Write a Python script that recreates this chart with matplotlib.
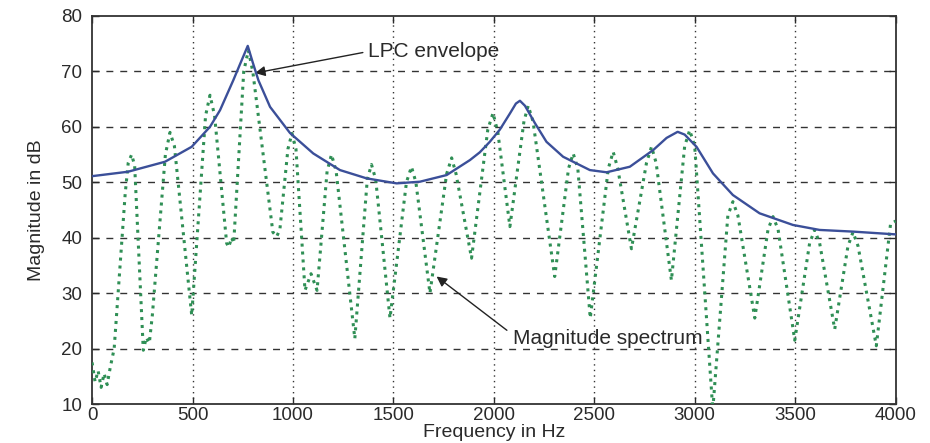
import matplotlib
matplotlib.use("Agg")
import matplotlib.pyplot as plt
from matplotlib import font_manager

# ---- data ----
env_hz = [0, 179, 363, 496, 587, 637, 703, 740, 775, 800, 828, 886, 985, 1101, 1234, 1367,
          1516, 1632, 1765, 1881, 1930, 1980, 2030, 2080, 2110, 2130, 2155, 2204, 2262,
          2345, 2478, 2561, 2677, 2793, 2860, 2915, 2950, 3009, 3091, 3190, 3323, 3489,
          3622, 3788, 4000]
env_db = [51.1, 51.9, 53.7, 56.4, 60.0, 63.0, 68.4, 71.6, 74.6, 71.6, 68.4, 63.6, 58.9,
          55.2, 52.2, 50.7, 49.8, 50.1, 51.3, 54.0, 55.4, 57.3, 59.5, 62.4, 64.2, 64.7,
          63.8, 60.7, 57.3, 54.6, 52.2, 51.8, 52.8, 55.8, 58.0, 59.1, 58.6, 56.4, 51.6,
          47.7, 44.4, 42.3, 41.4, 41.1, 40.6]

spec_hz = [0, 15, 30, 45, 60, 75, 90, 110, 165, 180, 197, 212, 255, 270, 285, 300,
           365, 388, 410, 496, 565, 587, 610, 670, 680, 695, 705, 755, 778, 800, 900,
           919, 935, 975, 995, 1015, 1060, 1090, 1120, 1170, 1192, 1215, 1308, 1370,
           1391, 1412, 1483, 1565, 1590, 1612, 1682, 1765, 1790, 1812, 1889, 1970, 1996,
           2020, 2080, 2150, 2171, 2195, 2303, 2372, 2395, 2418, 2480, 2570, 2594, 2617,
           2685, 2760, 2785, 2808, 2884, 2950, 2975, 3000, 3090, 3165, 3190, 3215, 3299,
           3365, 3390, 3415, 3498, 3572, 3597, 3622, 3697, 3763, 3788, 3813, 3904, 3975,
           4000]
spec_db = [17.5, 14.0, 16.0, 13.0, 15.5, 13.5, 16.5, 20.0, 48.0, 53.5, 55.0, 53.0, 19.7,
           22.0, 21.0, 26.0, 55.0, 59.0, 56.5, 26.0, 62.0, 65.7, 62.0, 39.0, 38.3, 40.0,
           39.0, 70.0, 73.8, 70.0, 41.0, 40.2, 41.5, 56.0, 58.8, 56.0, 30.5, 33.5, 30.5,
           52.0, 55.0, 52.0, 21.8, 50.5, 53.2, 50.5, 25.5, 50.0, 52.8, 50.0, 30.0, 51.5,
           54.4, 51.5, 36.3, 59.5, 62.5, 59.0, 42.0, 61.0, 63.8, 61.0, 33.0, 52.5, 55.2,
           52.5, 25.5, 52.5, 55.5, 52.5, 38.0, 53.5, 56.4, 53.5, 32.3, 56.5, 59.4, 56.5,
           9.0, 44.0, 46.5, 44.0, 25.5, 41.5, 43.8, 41.5, 21.5, 39.0, 41.4, 39.0, 23.5,
           38.5, 41.0, 38.5, 20.5, 42.5, 43.0]

x_ticks = [0, 500, 1000, 1500, 2000, 2500, 3000, 3500, 4000]
y_ticks = [10, 20, 30, 40, 50, 60, 70, 80]

# ---- fonts ----
avail = {f.name for f in font_manager.fontManager.ttflist}
main_font = "Liberation Sans" if "Liberation Sans" in avail else "DejaVu Sans"
plt.rcParams['font.family'] = [main_font, 'DejaVu Sans']

TXT = "#2a2a2a"
fig = plt.figure(figsize=(9.3, 4.43), dpi=100)
ax = fig.add_axes([0.099, 0.088, 0.864, 0.876])

ax.plot(spec_hz, spec_db, linestyle=(0, (1, 1.6)), color="#2f8f55", linewidth=2.2,
        dash_capstyle='butt', zorder=3)
ax.plot(env_hz, env_db, color="#3b4f99", linewidth=1.7, zorder=4)

ax.set_xlim(0, 4000)
ax.set_ylim(10, 80)
ax.set_xticks(x_ticks)
ax.set_yticks(y_ticks)
ax.tick_params(direction='in', length=5, width=1, labelsize=13.5, colors=TXT,
               top=True, right=True)
ax.tick_params(axis='y', pad=7)
ax.tick_params(axis='x', pad=2)

for x in x_ticks[1:-1]:
    ax.axvline(x, color="#333333", linestyle=(0, (1, 3)), linewidth=1.0, zorder=1)
for y in y_ticks[1:-1]:
    ax.axhline(y, color="#333333", linestyle=(0, (5, 5)), linewidth=1.0, zorder=1)

for s in ax.spines.values():
    s.set_color("#333333")
    s.set_linewidth(1.3)

ax.set_xlabel("Frequency in Hz", fontsize=14, color=TXT, labelpad=0)
ax.set_ylabel("Magnitude in dB", fontsize=14, color=TXT, labelpad=12)

# LPC envelope annotation
ax.annotate("", xy=(811, 69.7), xytext=(1348, 73.4),
            arrowprops=dict(arrowstyle='-|>', color="#222222", lw=1.0,
                            mutation_scale=15, shrinkA=0, shrinkB=0))
ax.text(1373, 73.5, "LPC envelope", fontsize=15, color=TXT, va='center', ha='left')

# Magnitude spectrum annotation
ax.annotate("", xy=(1715, 33.0), xytext=(2065, 23.3),
            arrowprops=dict(arrowstyle='-|>', color="#222222", lw=1.0,
                            mutation_scale=15, shrinkA=0, shrinkB=0))
ax.text(2095, 21.9, "Magnitude spectrum", fontsize=15, color=TXT, va='center', ha='left')

fig.savefig("out.png", dpi=100)
